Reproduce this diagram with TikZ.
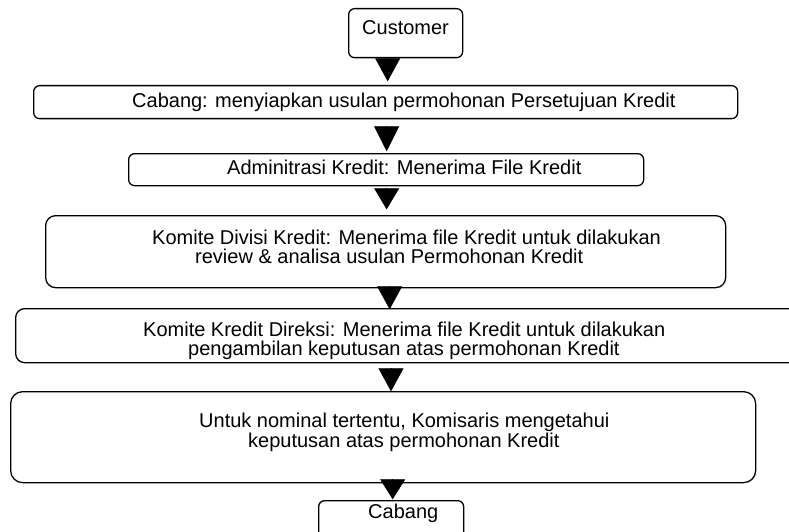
\documentclass[tikz,border=0pt]{standalone}
\usepackage{fontspec}
\setmainfont{Liberation Sans}
\usetikzlibrary{arrows.meta}
\begin{document}
\begin{tikzpicture}[x=1pt,y=-1pt,
  box/.style={draw, line width=1.3pt, rounded corners=#1, anchor=north west, inner sep=0pt},
  box/.default=6pt,
  txt/.style={font=\fontsize{20pt}{20pt}\selectfont, inner sep=0pt, anchor=base west},
  flow/.style={-{Triangle[width=25pt,length=#1]}, line width=0.5pt}]
\path[use as bounding box, clip] (0,0) rectangle (789,532);
\fill[white] (0,0) rectangle (789,532);
% boxes
\node[box, minimum width=114pt, minimum height=49pt] (cust) at (348,8) {};
\node[box, minimum width=704pt, minimum height=33pt] (b2) at (33,85) {};
\node[box, minimum width=515pt, minimum height=32pt] (b3) at (128,153) {};
\node[box=10pt, minimum width=680pt, minimum height=72pt] (b4) at (45,215) {};
\node[box=9pt, minimum width=800pt, minimum height=54pt] (b5) at (15,308) {};
\node[box=12pt, minimum width=745pt, minimum height=91pt] (b6) at (10,391) {};
\node[box, minimum width=145pt, minimum height=45pt] (b7) at (318,500) {};
% texts
\node[txt] (custt) at (362,35) {Customer};
\node[txt] (b2t) at (132,108) {Cabang: menyiapkan usulan permohonan Persetujuan Kredit};
\node[txt] (b3t) at (227,174) {Adminitrasi Kredit: Menerima File Kredit};
\node[txt] (b4a) at (152,244) {Komite Divisi Kredit: Menerima file Kredit untuk dilakukan};
\node[txt] (b4b) at (195,263) {review \& analisa usulan Permohonan Kredit};
\node[txt] (b5a) at (143,336) {Komite Kredit Direksi: Menerima file Kredit untuk dilakukan};
\node[txt] (b5b) at (188,355) {pengambilan keputusan atas permohonan Kredit};
\node[txt] (b6a) at (199,427) {Untuk nominal tertentu, Komisaris mengetahui};
\node[txt] (b6b) at (248,447) {keputusan atas permohonan Kredit};
\node[txt] (b7t) at (368,518) {Cabang};
% flow triangles
\draw[flow=23pt] ([shift={(-18,0)}]cust.south) -- ++(0,23);
\draw[flow=25pt] ([shift={(1,7)}]b2.south) -- ++(0,25);
\draw[flow=21pt] ([shift={(0.5,2)}]b3.south) -- ++(0,21);
\draw[flow=23pt] ([shift={(4,-2)}]b4.south) -- ++(0,23);
\draw[flow=23pt] ([shift={(376,5)}]b5.south west) -- ++(0,23);
\draw[flow=20pt] ([shift={(9.5,-4)}]b6.south) -- ++(0,20);
\end{tikzpicture}
\end{document}
